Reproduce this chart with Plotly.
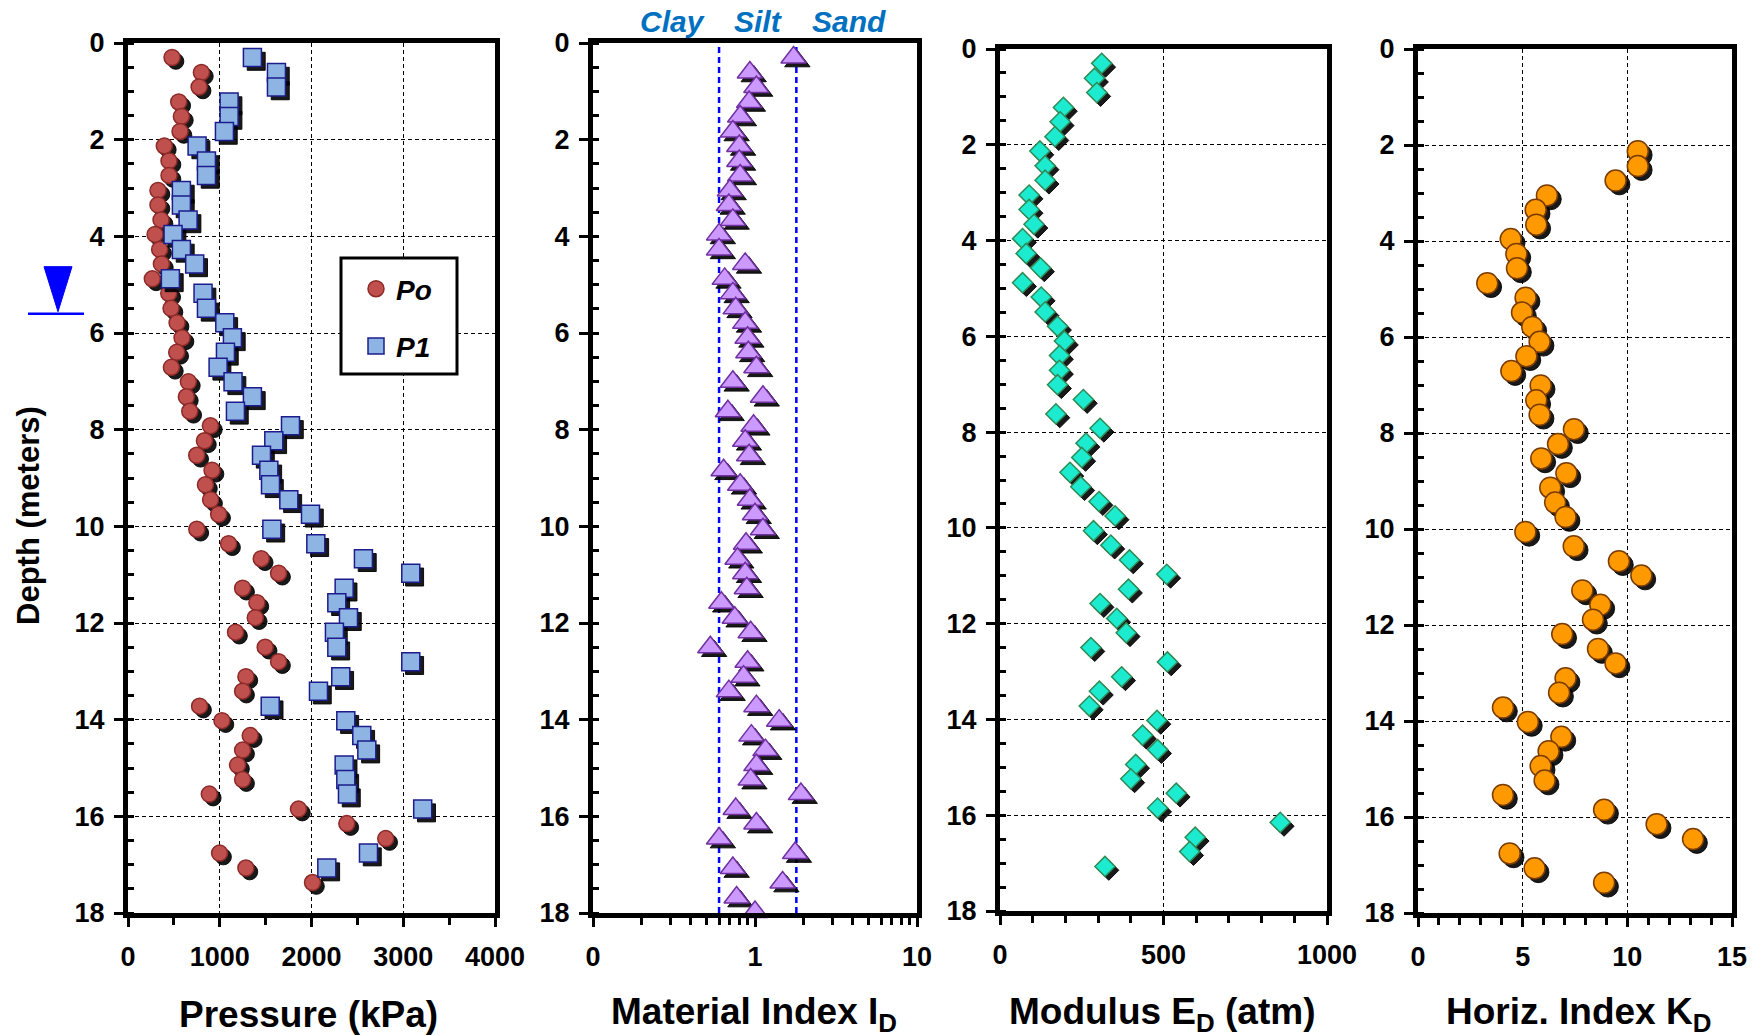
import plotly.graph_objects as go

W, H = 1761, 1036
FONT = "Liberation Sans"

# ---------------- data ----------------
DEPTH_M = [0.30, 0.61, 0.91, 1.22, 1.52, 1.83, 2.13, 2.44, 2.74, 3.05,
           3.35, 3.66, 3.96, 4.27, 4.57, 4.88, 5.18, 5.49, 5.79, 6.10,
           6.40, 6.71, 7.01, 7.32, 7.62, 7.92, 8.23, 8.53, 8.84, 9.14,
           9.45, 9.75, 10.06, 10.36, 10.67, 10.97, 11.28, 11.58, 11.89, 12.19,
           12.50, 12.80, 13.11, 13.41, 13.72, 14.02, 14.33, 14.63, 14.94, 15.24,
           15.54, 15.85, 16.15, 16.46, 16.76, 17.07, 17.37, 17.68, 17.98]

PO_KPA = [480, 800, 775, 553, 582, 567, 396, 447, 447, 327,
          327, 360, 295, 345, 364, 265, 444, 469, 535, 589,
          531, 473, 658, 636, 673, 898, 833, 749, 916, 844,
          900, 988, 750, 1096, 1452, 1641, 1249, 1405, 1387, 1172,
          1495, 1641, 1285, 1249, 780, 1024, 1332, 1249, 1194, 1249,
          886, 1858, 2385, 2809, 998, 1285, 2011, None, None]

P1_KPA = [1356, 1618, 1618, 1102, 1102, 1051, 753, 855, 855, 582,
          582, 655, 491, 582, 727, 462, 818, 855, 1055, 1138,
          1062, 982, 1145, 1356, 1171, 1771, 1589, 1455, 1535, 1553,
          1753, 1989, 1568, 2047, 2566, 3082, 2356, 2276, 2403, 2250,
          2276, 3082, 2319, 2076, 1550, 2374, 2548, 2603, 2356, 2374,
          2392, 3212, None, None, 2621, 2167, None, None, None]

ID_VALUES = [1.73, 0.93, 1.02, 0.92, 0.81, 0.73, 0.80, 0.80, 0.81, 0.70,
             0.69, 0.73, 0.60, 0.60, 0.87, 0.65, 0.73, 0.76, 0.87, 0.90,
             0.91, 1.02, 0.73, 1.12, 0.68, 0.98, 0.87, 0.92, 0.64, 0.81,
             0.93, 1.00, 1.12, 0.88, 0.78, 0.87, 0.89, 0.62, 0.75, 0.94,
             0.53, 0.90, 0.85, 0.69, 1.02, 1.41, 0.95, 1.16, 1.02, 0.94,
             1.92, 0.76, 1.02, 0.60, 1.77, 0.73, 1.48, 0.77, 1.00]

ED_ATM = [311, 289, 296, 194, 184, 168, 122, 138, 138, 89,
          89, 104, 69, 80, 124, 69, 126, 138, 176, 197,
          182, 182, 176, 255, 171, 306, 263, 250, 214, 247,
          303, 352, 286, 339, 396, 510, 393, 306, 357, 386,
          278, 512, 372, 304, 273, 480, 436, 482, 415, 400,
          539, 482, 857, 597, 580, 321, None, None, None]

KD_VALUES = [None, None, None, None, None, None, 10.5, 10.5, 9.44, 6.16,
             5.62, 5.65, 4.43, 4.70, 4.73, 3.31, 5.14, 4.97, 5.46, 5.81,
             5.18, 4.46, 5.86, 5.65, 5.81, 7.45, 6.69, 5.89, 7.09, 6.32,
             6.55, 7.05, 5.13, 7.44, 9.60, 10.67, 7.85, 8.71, 8.36, 6.89,
             8.60, 9.44, 7.05, 6.74, 4.06, 5.25, 6.85, 6.24, 5.86, 6.05,
             4.06, 8.89, 11.40, 13.14, 4.38, 5.57, 8.89, None, None]

ID_BOUNDS = [0.6, 1.8]
SOIL_LABELS = ["Clay", "Silt", "Sand"]
WATER_TABLE_M = 5.6

DEPTH_RANGE = [18, 0]
DEPTH_TICKS = [0, 2, 4, 6, 8, 10, 12, 14, 16, 18]
PRESSURE_RANGE = [0, 4000]
PRESSURE_TICKS = [0, 1000, 2000, 3000, 4000]
ID_RANGE_LOG = [-1, 1]
ID_TICKVALS = [0.1, 1, 10]
ID_TICKTEXT = ["0", "1", "10"]
ID_MINOR = [0.2, 0.3, 0.4, 0.5, 0.6, 0.7, 0.8, 0.9, 2, 3, 4, 5, 6, 7, 8, 9]
ED_RANGE = [0, 1000]
ED_TICKS = [0, 500, 1000]
KD_RANGE = [0, 15]
KD_TICKS = [0, 5, 10, 15]

# ---------------- layout geometry (pixels) ----------------
BOX = {1: (128, 43, 495, 913), 2: (593, 43, 917, 913),
       3: (1000, 49, 1327, 911), 4: (1418, 49, 1732, 913)}


def xdom(i):
    l, t, r, b = BOX[i]
    return [l / W, r / W]


def ydom(i):
    l, t, r, b = BOX[i]
    return [1 - b / H, 1 - t / H]


SH = 3.8  # shadow offset px


def shadow_x(vals, rng, i, log=False):
    l, t, r, b = BOX[i]
    wpx = r - l
    if log:
        f = 10 ** (SH * (rng[1] - rng[0]) / wpx)
        return [None if v is None else v * f for v in vals]
    d = SH * (rng[1] - rng[0]) / wpx
    return [None if v is None else v + d for v in vals]


def shadow_y(i):
    l, t, r, b = BOX[i]
    d = SH * 18 / (b - t)
    return [v + d for v in DEPTH_M]


fig = go.Figure()


def add_series(x, i, rng, symbol, size, fill, edge, name=None, log=False, group=None):
    xa = "x" if i == 1 else f"x{i}"
    ya = "y" if i == 1 else f"y{i}"
    fig.add_trace(go.Scatter(
        x=shadow_x(x, rng, i, log), y=shadow_y(i), mode="markers",
        xaxis=xa, yaxis=ya, showlegend=False, hoverinfo="skip", cliponaxis=False,
        marker=dict(symbol=symbol, size=size, color="rgba(0,0,0,0.9)",
                    line=dict(width=1, color="rgba(0,0,0,0.9)"))))
    fig.add_trace(go.Scatter(
        x=x, y=DEPTH_M, mode="markers", xaxis=xa, yaxis=ya,
        name=name, showlegend=name is not None, legendgroup=group, cliponaxis=False,
        marker=dict(symbol=symbol, size=size, color=fill,
                    line=dict(width=1.5, color=edge))))


add_series(PO_KPA, 1, PRESSURE_RANGE, "circle", 16, "#C0504D", "#8B2A28", name="Po", group="a")
add_series(P1_KPA, 1, PRESSURE_RANGE, "square", 18, "#8DB4E2", "#1C1C8C", name="P1", group="b")
add_series(ID_VALUES, 2, ID_RANGE_LOG, "triangle-up", 22, "#CC99FF", "#7030A0", log=True)
add_series(ED_ATM, 3, ED_RANGE, "diamond", 15.5, "#1CEBD0", "#2E8B57")
add_series(KD_VALUES, 4, KD_RANGE, "circle", 21, "#FF9900", "#7A3C00")

tickfont = dict(family=FONT, size=27, color="black", weight="bold")
GRID_DASH = "4px,3px"

common_x = dict(showline=True, linewidth=5, linecolor="black", mirror=True,
                ticks="outside", ticklen=9, tickwidth=3, tickcolor="black",
                tickfont=tickfont, zeroline=False, gridcolor="black", gridwidth=1,
                griddash=GRID_DASH, ticklabelstandoff=7, automargin=False)
common_y = dict(showline=True, linewidth=5, linecolor="black", mirror=True,
                range=DEPTH_RANGE, tickmode="array", tickvals=DEPTH_TICKS,
                ticks="outside", ticklen=9, tickwidth=3, tickcolor="black",
                tickfont=tickfont, zeroline=False, gridcolor="black", gridwidth=1,
                griddash=GRID_DASH, ticklabelstandoff=4, automargin=False,
                minor=dict(dtick=0.5, ticks="inside", ticklen=6, tickwidth=3,
                           tickcolor="black", showgrid=False))

fig.update_layout(
    xaxis=dict(common_x, domain=xdom(1), anchor="y", range=PRESSURE_RANGE,
               tickmode="array", tickvals=PRESSURE_TICKS, showgrid=True,
               minor=dict(dtick=500, ticks="outside", ticklen=7, tickwidth=3,
                          tickcolor="black", showgrid=False)),
    yaxis=dict(common_y, domain=ydom(1), anchor="x", showgrid=True),
    xaxis2=dict(common_x, domain=xdom(2), anchor="y2", type="log", range=ID_RANGE_LOG,
                tickmode="array", tickvals=ID_TICKVALS, ticktext=ID_TICKTEXT, showgrid=False,
                minor=dict(tickmode="array", tickvals=ID_MINOR, ticks="outside", ticklen=7,
                           tickwidth=3, tickcolor="black", showgrid=False)),
    yaxis2=dict(common_y, domain=ydom(2), anchor="x2", showgrid=False),
    xaxis3=dict(common_x, domain=xdom(3), anchor="y3", range=ED_RANGE,
                tickmode="array", tickvals=ED_TICKS, showgrid=True,
                minor=dict(dtick=100, ticks="outside", ticklen=7, tickwidth=3,
                           tickcolor="black", showgrid=False)),
    yaxis3=dict(common_y, domain=ydom(3), anchor="x3", showgrid=True),
    xaxis4=dict(common_x, domain=xdom(4), anchor="y4", range=KD_RANGE,
                tickmode="array", tickvals=KD_TICKS, showgrid=True,
                minor=dict(dtick=1, ticks="outside", ticklen=7, tickwidth=3,
                           tickcolor="black", showgrid=False)),
    yaxis4=dict(common_y, domain=ydom(4), anchor="x4", showgrid=True),
)

# soil boundary lines on the material index panel
for b in ID_BOUNDS:
    fig.add_shape(type="line", xref="x2", yref="y2 domain", x0=b, x1=b, y0=0, y1=1,
                  line=dict(color="#0000FF", width=2.5, dash="6px,4px"), layer="below")

# soil labels
for lab, px in zip(SOIL_LABELS, [672, 758, 849]):
    fig.add_annotation(text=lab, x=px / W, y=1 - 22 / H, xref="paper", yref="paper",
                       showarrow=False, xanchor="center", yanchor="middle",
                       font=dict(family=FONT, size=30, color="#0070C0", weight="bold",
                                 style="italic"))

# axis titles
title_font = dict(family=FONT, size=37, color="black", weight="bold")
for txt, px in [("Pressure (kPa)", 308), ("Material Index I<sub>D</sub>", 754),
                ("Modulus E<sub>D</sub> (atm)", 1162), ("Horiz. Index K<sub>D</sub>", 1578)]:
    fig.add_annotation(text=txt, x=px / W, y=1 - 1014 / H, xref="paper", yref="paper",
                       showarrow=False, xanchor="center", yanchor="middle", font=title_font)

fig.add_annotation(text="Depth (meters)", x=28 / W, y=1 - 516 / H, xref="paper", yref="paper",
                   showarrow=False, textangle=-90, xanchor="center", yanchor="middle",
                   font=dict(family=FONT, size=31, color="black", weight="bold"))

# water table symbol
fig.add_shape(type="line", xref="paper", yref="y", x0=28 / W, x1=84 / W,
              y0=WATER_TABLE_M, y1=WATER_TABLE_M, line=dict(color="#0000FF", width=2.5))
fig.add_shape(type="path", xref="paper", xsizemode="pixel", xanchor=0,
              yref="y", ysizemode="pixel", yanchor=WATER_TABLE_M,
              path="M44,47 L72,47 L58,2 Z", fillcolor="#0000FF",
              line=dict(color="#0000FF", width=1))

# legend frame
fig.add_shape(type="rect", xref="paper", yref="paper",
              x0=341 / W, x1=457 / W, y0=1 - 374 / H, y1=1 - 258 / H,
              line=dict(color="black", width=3), fillcolor="white", layer="above")

fig.update_layout(
    width=W, height=H, autosize=False,
    margin=dict(l=0, r=0, t=0, b=0, pad=0, autoexpand=False),
    paper_bgcolor="white", plot_bgcolor="white",
    showlegend=True,
    legend=dict(x=344 / W, y=1 - 264 / H, xanchor="left", yanchor="top",
                bgcolor="rgba(0,0,0,0)", borderwidth=0,
                font=dict(family=FONT, size=28, color="black", weight="bold", style="italic"),
                tracegroupgap=18, indentation=12, itemsizing="trace"),
)

fig.write_html("out.html", post_script="document.body.style.margin='0';")
